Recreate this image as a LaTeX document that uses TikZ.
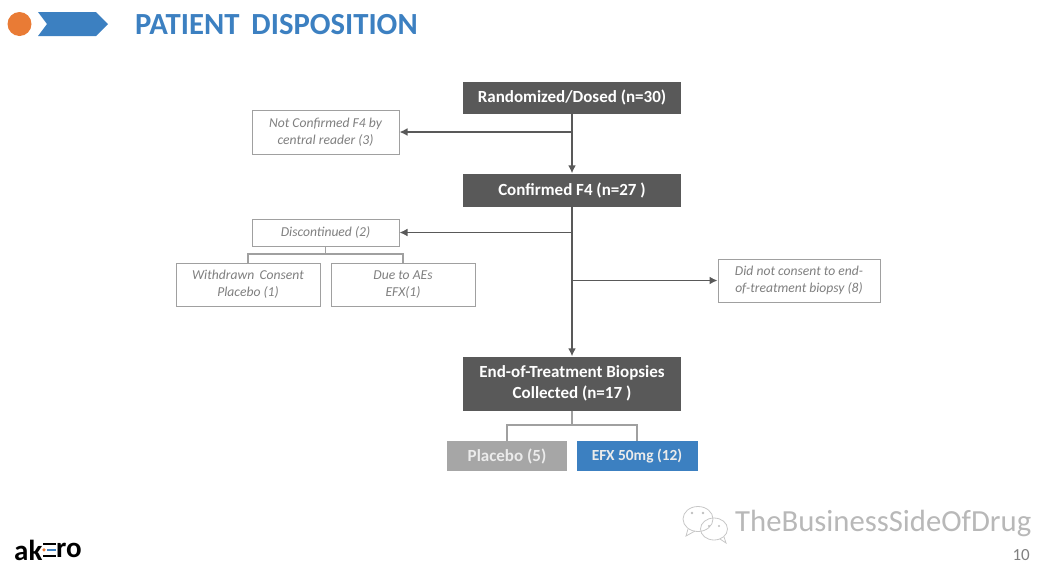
\documentclass[tikz,border=0pt]{standalone}
\usepackage{fontspec}
\setmainfont{Carlito}
\usetikzlibrary{arrows.meta,calc}
\definecolor{darkbox}{HTML}{595959}
\definecolor{linegray}{HTML}{A0A0A0}
\definecolor{arrowgray}{HTML}{595959}
\definecolor{txtgray}{HTML}{7F7F7F}
\definecolor{brand}{HTML}{3C80C1}
\definecolor{orangedot}{HTML}{E97B35}
\definecolor{midgray}{HTML}{A6A6A6}
\tikzset{
 x=1pt,y=-1pt,
 solidbox/.style={draw=none,fill=darkbox,text=white,font=\bfseries\fontsize{17}{21}\selectfont,align=center,inner sep=0pt,minimum width=218pt},
 notebox/.style={draw=linegray,line width=1pt,fill=white,text=txtgray,font=\itshape\fontsize{13.6}{17}\selectfont,align=center,inner sep=0pt},
 armbox/.style={font=\bfseries\fontsize{17}{18}\selectfont,text=white!92!black,inner sep=0pt,minimum width=120pt,minimum height=30pt},
 flow/.style={draw=arrowgray,line width=1.6pt,-{Latex[length=8pt,width=8pt]}},
 tie/.style={draw=linegray,line width=1.1pt},
}
\begin{document}
\begin{tikzpicture}
\useasboundingbox (0,0) rectangle (1041,571);
% header
\fill[orangedot] (19.5,24) circle (12);
\fill[brand] (38,12) -- (96,12) -- (108,24) -- (96,36) -- (38,36) -- (47,24) -- cycle;
\node[anchor=west,inner sep=0pt,text=brand,font=\bfseries\fontsize{30.7}{32}\selectfont] (title) at (135,24.5) {PATIENT\, DISPOSITION};
% main boxes
\node[solidbox,minimum height=32pt] (rand) at (572,97.5) {Randomized/Dosed (n=30)};
\node[solidbox,minimum height=33pt] (conf) at (572,190) {Confirmed F4 (n=27 )};
\node[solidbox,minimum height=54pt] (eot) at (572,383.5) {End-of-Treatment Biopsies\\Collected (n=17 )};
\node[armbox,fill=midgray] (plc) at (507,456) {Placebo (5)};
\node[armbox,fill=brand,minimum width=121pt,font=\bfseries\fontsize{15.4}{18}\selectfont] (efx) at (637,456) {EFX 50mg (12)};
% notes
\node[notebox,minimum width=147pt,minimum height=44pt] (notconf) at (325.5,132) {Not Confirmed F4 by\\central reader (3)};
\node[notebox,minimum width=147pt,minimum height=27pt] (disc) at (325.5,232.5) {Discontinued (2)};
\node[notebox,minimum width=144pt,minimum height=43pt] (wd) at (248,284.5) {Withdrawn\, Consent\\Placebo (1)};
\node[notebox,minimum width=144pt,minimum height=43pt] (ae) at (403,284.5) {Due to AEs\\EFX(1)};
\node[notebox,minimum width=162pt,minimum height=43pt] (nobx) at (799,280.5) {Did not consent to end-\\of-treatment biopsy (8)};
% junctions on trunk
\coordinate (j1) at (572,132);
\coordinate (j2) at (572,232.5);
\coordinate (j3) at (572,280.5);
\coordinate (t1) at (325.5,254);
\coordinate (t2) at (572,425);
% connectors
\draw[flow] (rand.south) -- (conf.north);
\draw[flow] (conf.south) -- (eot.north);
\draw[flow] (j1) -- (notconf.east);
\draw[flow] (j2) -- (disc.east);
\draw[flow] (j3) -- (nobx.west);
\draw[tie] (disc.south) -- (t1);
\draw[tie] (wd.north) |- (t1) -| (ae.north);
\draw[tie] (eot.south) -- (t2);
\draw[tie] (plc.north) |- (t2) -| (efx.north);
% logo
\node[anchor=west,inner sep=0pt,font=\bfseries\fontsize{29}{29}\selectfont,text=black] (lg1) at (14,550) {ak};
\node[anchor=west,inner sep=0pt,font=\bfseries\fontsize{29}{29}\selectfont,text=black] (lg2) at (56,550) {ro};
\fill[black] (43,542.5) rectangle (56,544.5);
\fill[black] (43,555) rectangle (56,557);
\fill[orangedot] (44,549.8) circle (1.8);
\fill[brand] (47,548.8) rectangle (56,550.8);
% watermark
\begin{scope}[draw=black!22,line width=.8pt,fill=white]
\draw (698,519) ellipse (15 and 12.5);
\draw (688,529) -- (686,536) -- (695,531);
\draw (714,529) ellipse (13.5 and 11);
\draw (720,539) -- (726,543) -- (724,537);
\end{scope}
\foreach \p in {692,703}{\fill[black!25] (\p,513) circle (1.3);}
\foreach \p in {709,719}{\fill[black!25] (\p,526) circle (1.2);}
\node[anchor=west,inner sep=0pt,text=black!28,font=\fontsize{30.7}{32}\selectfont] (wm) at (735,523.5) {TheBusinessSideOfDrug};
\node[anchor=east,inner sep=0pt,text=black!50,font=\fontsize{17}{18}\selectfont] (pg) at (1030,555) {10};
\end{tikzpicture}
\end{document}
